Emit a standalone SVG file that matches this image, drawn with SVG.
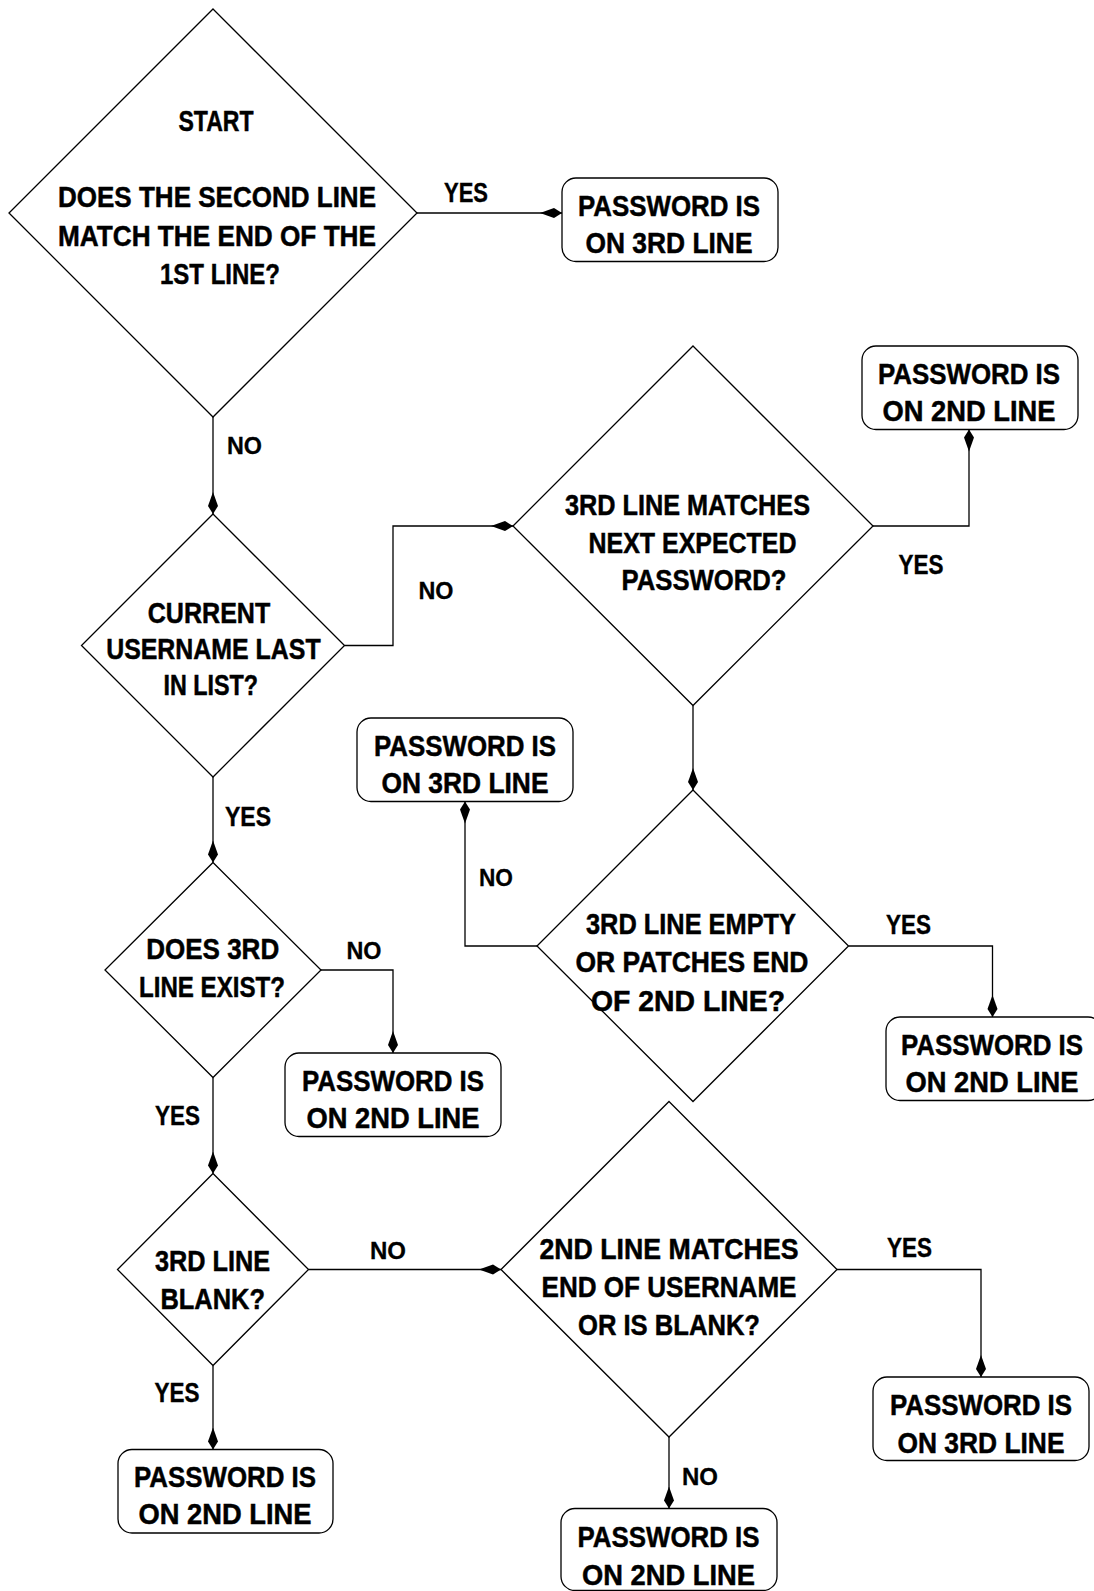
<svg xmlns="http://www.w3.org/2000/svg" width="1094" height="1591" viewBox="0 0 1094 1591">
<defs>
<style>
.shape{fill:#fff;stroke:#000;stroke-width:1.3}
.t{font-family:"Liberation Sans",Arial,sans-serif;font-weight:bold;font-size:30px;text-anchor:middle;fill:#000;stroke:#000;stroke-width:0.5}
.ly{font-family:"Liberation Sans",Arial,sans-serif;font-weight:bold;font-size:28px;text-anchor:middle;fill:#000;stroke:#000;stroke-width:0.4}
.ln{font-family:"Liberation Sans",Arial,sans-serif;font-weight:bold;font-size:24px;text-anchor:middle;fill:#000;stroke:#000;stroke-width:0.3}
.c{fill:none;stroke:#000;stroke-width:1.3;marker-end:url(#ah)}
</style>
<marker id="ah" markerUnits="userSpaceOnUse" viewBox="0 -6 24 12" markerWidth="24" markerHeight="12" refX="22" refY="0" orient="auto">
<path d="M0,0 L14,-5 L22,0 L14,5 Z" fill="#000"/>
</marker>
</defs>
<rect width="1094" height="1591" fill="#fff"/>

<g id="connectors">
<g id="c1"><path class="c" d="M417,213 H562"/><text class="ly" x="466" y="202" textLength="44" lengthAdjust="spacingAndGlyphs">YES</text></g>
<g id="c2"><path class="c" d="M213,417 V514"/><text class="ln" x="244.5" y="453.5" textLength="35" lengthAdjust="spacingAndGlyphs">NO</text></g>
<g id="c3"><path class="c" d="M344.5,645.5 H393 V526 H513"/><text class="ln" x="436" y="598.5" textLength="35" lengthAdjust="spacingAndGlyphs">NO</text></g>
<g id="c4"><path class="c" d="M873,526 H969 V429.5"/><text class="ly" x="921" y="574" textLength="45" lengthAdjust="spacingAndGlyphs">YES</text></g>
<g id="c5"><path class="c" d="M693,705.5 V790"/><text class="ln" x="723.5" y="874.5" textLength="34" lengthAdjust="spacingAndGlyphs">NO</text></g>
<g id="c6"><path class="c" d="M537,946 H465 V801.5"/><text class="ln" x="496" y="886" textLength="34" lengthAdjust="spacingAndGlyphs">NO</text></g>
<g id="c7"><path class="c" d="M848.5,946 H992.5 V1017"/><text class="ly" x="908.5" y="933.5" textLength="45" lengthAdjust="spacingAndGlyphs">YES</text></g>
<g id="c8"><path class="c" d="M213,777 V862.5"/><text class="ly" x="248" y="826" textLength="46" lengthAdjust="spacingAndGlyphs">YES</text></g>
<g id="c9"><path class="c" d="M321,970 H393 V1053"/><text class="ln" x="364" y="958.5" textLength="35" lengthAdjust="spacingAndGlyphs">NO</text></g>
<g id="c10"><path class="c" d="M213,1077.5 V1173.5"/><text class="ly" x="177.5" y="1125" textLength="45" lengthAdjust="spacingAndGlyphs">YES</text></g>
<g id="c11"><path class="c" d="M308.5,1269.5 H501"/><text class="ln" x="388" y="1258.5" textLength="36" lengthAdjust="spacingAndGlyphs">NO</text></g>
<g id="c12"><path class="c" d="M213,1365.5 V1449.5"/><text class="ly" x="177" y="1401.5" textLength="45" lengthAdjust="spacingAndGlyphs">YES</text></g>
<g id="c13"><path class="c" d="M837,1269.5 H981 V1377"/><text class="ly" x="909.5" y="1256.5" textLength="45" lengthAdjust="spacingAndGlyphs">YES</text></g>
<g id="c14"><path class="c" d="M669,1437 V1508.5"/><text class="ln" x="700" y="1485" textLength="36" lengthAdjust="spacingAndGlyphs">NO</text></g>
</g>

<g id="d1">
<polygon class="shape" points="213,9 417,213 213,417 9,213"/>
<text class="t" x="216" y="131" textLength="75" lengthAdjust="spacingAndGlyphs">START</text>
<text class="t" x="217" y="207" textLength="318" lengthAdjust="spacingAndGlyphs">DOES THE SECOND LINE</text>
<text class="t" x="217" y="246" textLength="318" lengthAdjust="spacingAndGlyphs">MATCH THE END OF THE</text>
<text class="t" x="220" y="284" textLength="120" lengthAdjust="spacingAndGlyphs">1ST LINE?</text>
</g>

<g id="d2">
<polygon class="shape" points="213,514 344.5,645.5 213,777 81.5,645.5"/>
<text class="t" x="209" y="622.5" textLength="122.5" lengthAdjust="spacingAndGlyphs">CURRENT</text>
<text class="t" x="213.4" y="658.5" textLength="214.5" lengthAdjust="spacingAndGlyphs">USERNAME LAST</text>
<text class="t" x="210.8" y="694.5" textLength="94.6" lengthAdjust="spacingAndGlyphs">IN LIST?</text>
</g>

<g id="d3">
<polygon class="shape" points="693,346 873,526 693,705.5 513,526"/>
<text class="t" x="687.5" y="515" textLength="245" lengthAdjust="spacingAndGlyphs">3RD LINE MATCHES</text>
<text class="t" x="692.5" y="553" textLength="208" lengthAdjust="spacingAndGlyphs">NEXT EXPECTED</text>
<text class="t" x="704" y="590" textLength="165" lengthAdjust="spacingAndGlyphs">PASSWORD?</text>
</g>

<g id="d4">
<polygon class="shape" points="693,790 848.5,946 693,1101.5 537,946"/>
<text class="t" x="691" y="934" textLength="210" lengthAdjust="spacingAndGlyphs">3RD LINE EMPTY</text>
<text class="t" x="692" y="972" textLength="233" lengthAdjust="spacingAndGlyphs">OR PATCHES END</text>
<text class="t" x="688" y="1010.5" textLength="194" lengthAdjust="spacingAndGlyphs">OF 2ND LINE?</text>
</g>

<g id="d5">
<polygon class="shape" points="213,862.5 321,970 213,1077.5 105,970"/>
<text class="t" x="212.7" y="958.5" textLength="133" lengthAdjust="spacingAndGlyphs">DOES 3RD</text>
<text class="t" x="212" y="997" textLength="146" lengthAdjust="spacingAndGlyphs">LINE EXIST?</text>
</g>

<g id="d6">
<polygon class="shape" points="213,1173.5 308.5,1269.5 213,1365.5 117.5,1269.5"/>
<text class="t" x="212.5" y="1270.5" textLength="115" lengthAdjust="spacingAndGlyphs">3RD LINE</text>
<text class="t" x="212.7" y="1308.5" textLength="104.5" lengthAdjust="spacingAndGlyphs">BLANK?</text>
</g>

<g id="d7">
<polygon class="shape" points="669,1101.5 837,1269.5 669,1437 501,1269.5"/>
<text class="t" x="669" y="1258.5" textLength="259" lengthAdjust="spacingAndGlyphs">2ND LINE MATCHES</text>
<text class="t" x="669" y="1296.5" textLength="255" lengthAdjust="spacingAndGlyphs">END OF USERNAME</text>
<text class="t" x="669" y="1334.5" textLength="182" lengthAdjust="spacingAndGlyphs">OR IS BLANK?</text>
</g>

<g id="b1">
<rect class="shape" x="562" y="178" width="216" height="83.5" rx="14"/>
<text class="t" x="669" y="215.5" textLength="182" lengthAdjust="spacingAndGlyphs">PASSWORD IS</text>
<text class="t" x="669" y="253" textLength="167" lengthAdjust="spacingAndGlyphs">ON 3RD LINE</text>
</g>

<g id="b2">
<rect class="shape" x="862" y="346" width="216" height="83.5" rx="14"/>
<text class="t" x="969" y="383.5" textLength="182" lengthAdjust="spacingAndGlyphs">PASSWORD IS</text>
<text class="t" x="969" y="421" textLength="173" lengthAdjust="spacingAndGlyphs">ON 2ND LINE</text>
</g>

<g id="b3">
<rect class="shape" x="357" y="718" width="216" height="83.5" rx="14"/>
<text class="t" x="465" y="755.5" textLength="182" lengthAdjust="spacingAndGlyphs">PASSWORD IS</text>
<text class="t" x="465" y="793" textLength="167" lengthAdjust="spacingAndGlyphs">ON 3RD LINE</text>
</g>

<g id="b4">
<rect class="shape" x="886" y="1017" width="216" height="83.5" rx="14"/>
<text class="t" x="992" y="1054.5" textLength="182" lengthAdjust="spacingAndGlyphs">PASSWORD IS</text>
<text class="t" x="992" y="1092" textLength="173" lengthAdjust="spacingAndGlyphs">ON 2ND LINE</text>
</g>

<g id="b5">
<rect class="shape" x="285" y="1053" width="216" height="83.5" rx="14"/>
<text class="t" x="393" y="1090.5" textLength="182" lengthAdjust="spacingAndGlyphs">PASSWORD IS</text>
<text class="t" x="393" y="1128" textLength="173" lengthAdjust="spacingAndGlyphs">ON 2ND LINE</text>
</g>

<g id="b6">
<rect class="shape" x="118" y="1449.5" width="215" height="83.5" rx="14"/>
<text class="t" x="225" y="1486.5" textLength="182" lengthAdjust="spacingAndGlyphs">PASSWORD IS</text>
<text class="t" x="225" y="1524" textLength="173" lengthAdjust="spacingAndGlyphs">ON 2ND LINE</text>
</g>

<g id="b7">
<rect class="shape" x="873" y="1377" width="216" height="83.5" rx="14"/>
<text class="t" x="981" y="1415" textLength="182" lengthAdjust="spacingAndGlyphs">PASSWORD IS</text>
<text class="t" x="981" y="1453" textLength="167" lengthAdjust="spacingAndGlyphs">ON 3RD LINE</text>
</g>

<g id="b8">
<rect class="shape" x="561" y="1508.5" width="216" height="82" rx="14"/>
<text class="t" x="668.5" y="1547" textLength="182" lengthAdjust="spacingAndGlyphs">PASSWORD IS</text>
<text class="t" x="668.5" y="1585" textLength="173" lengthAdjust="spacingAndGlyphs">ON 2ND LINE</text>
</g>
</svg>
